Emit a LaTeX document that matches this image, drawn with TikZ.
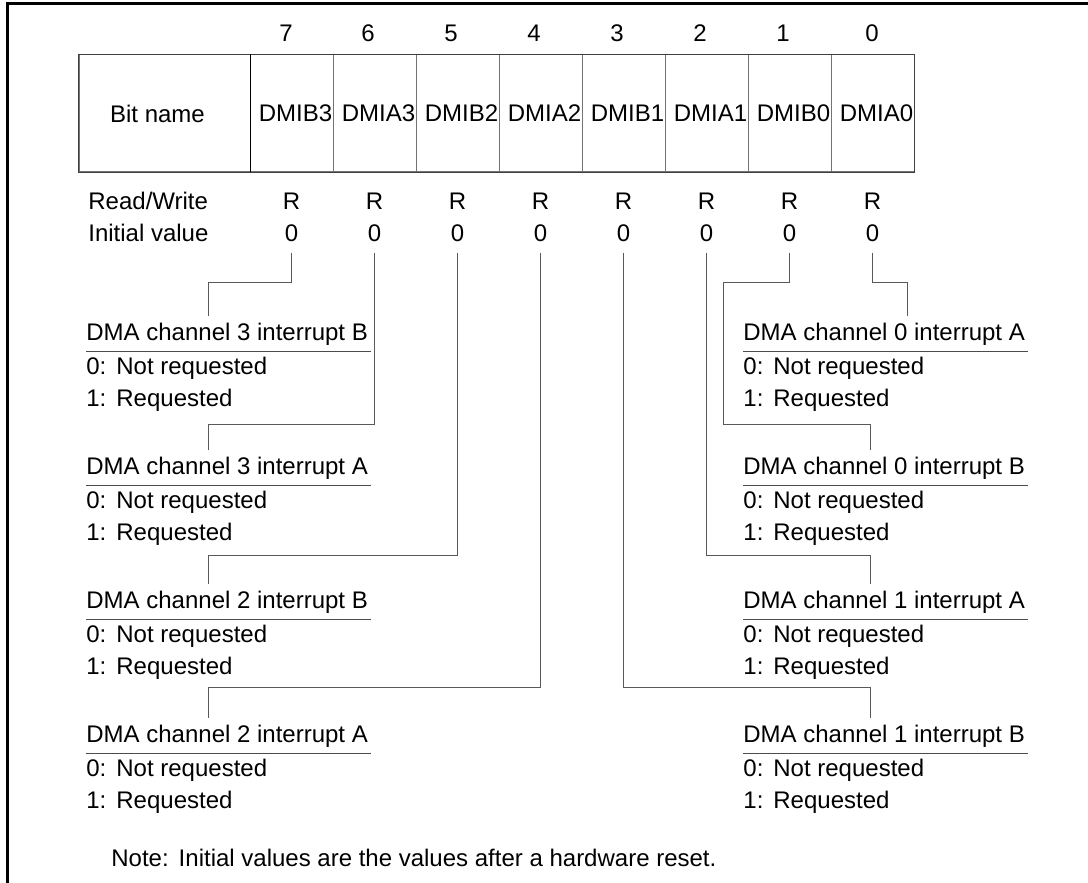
\documentclass[tikz,border=0pt]{standalone}
\usepackage{fontspec}
\setmainfont{Liberation Sans}

\begin{document}
\begin{tikzpicture}[x=0.5pt,y=-0.5pt,font=\fontsize{12pt}{14pt}\selectfont,
 cell/.style={draw=black!55,line width=.5pt,minimum width=41.5pt,minimum height=58.5pt,inner sep=0pt},
 txt/.style={anchor=base,inner sep=0pt},
 val/.style={anchor=base,inner sep=5pt},
 title/.style={anchor=base west,inner xsep=0pt,inner ysep=3pt},
 opt/.style={anchor=base west,inner sep=0pt},
 conn/.style={draw=black!65,line width=.5pt},
 uline/.style={draw=black!70,line width=.5pt}]
\useasboundingbox (0,0) rectangle (1088,883);
\draw[line width=1.5pt] (7.5,883) -- (7.5,3.5) -- (1088,3.5);

\node[cell,minimum width=85.5pt] (bn) at (164.5,113.5) {Bit name\hspace*{7pt}};
\node[cell] (c7) at (291.5,113.5) {\hspace*{4pt}DMIB3};
\node[cell] (c6) at (374.5,113.5) {\hspace*{4pt}DMIA3};
\node[cell] (c5) at (457.5,113.5) {\hspace*{4pt}DMIB2};
\node[cell] (c4) at (540.5,113.5) {\hspace*{4pt}DMIA2};
\node[cell] (c3) at (623.5,113.5) {\hspace*{4pt}DMIB1};
\node[cell] (c2) at (706.5,113.5) {\hspace*{4pt}DMIA1};
\node[cell] (c1) at (789.5,113.5) {\hspace*{4pt}DMIB0};
\node[cell] (c0) at (872.5,113.5) {\hspace*{4pt}DMIA0};
\draw[black!75,line width=.6pt] (bn.north west) rectangle (c0.south east);
\draw[line width=.7pt] (bn.north east) -- (bn.south east);

\node[txt] (n7) at (286,42) {7}; \node[txt] (n6) at (368,42) {6};
\node[txt] (n5) at (451,42) {5}; \node[txt] (n4) at (534,42) {4};
\node[txt] (n3) at (617,42) {3}; \node[txt] (n2) at (700,42) {2};
\node[txt] (n1) at (783,42) {1}; \node[txt] (n0) at (872,42) {0};

\node[opt] (rw) at (88,210) {Read/Write};
\node[opt] (iv) at (88,242) {Initial value};
\node[txt] (r7) at (291.5,210) {R}; \node[val] (v7) at (291.5,242) {0};
\node[txt] (r6) at (374.5,210) {R}; \node[val] (v6) at (374.5,242) {0};
\node[txt] (r5) at (457.5,210) {R}; \node[val] (v5) at (457.5,242) {0};
\node[txt] (r4) at (540.5,210) {R}; \node[val] (v4) at (540.5,242) {0};
\node[txt] (r3) at (623.5,210) {R}; \node[val] (v3) at (623.5,242) {0};
\node[txt] (r2) at (706.5,210) {R}; \node[val] (v2) at (706.5,242) {0};
\node[txt] (r1) at (789.5,210) {R}; \node[val] (v1) at (789.5,242) {0};
\node[txt] (r0) at (872.5,210) {R}; \node[val] (v0) at (872.5,242) {0};

\node[title] (t7) at (86,340) {\makebox[142pt][l]{DMA channel 3 interrupt B}};
\node[opt] (a7) at (86,374) {\makebox[15pt][l]{0:}Not requested};
\node[opt] (b7) at (86,406) {\makebox[15pt][l]{1:}Requested};
\node[title] (t6) at (86,474) {\makebox[142pt][l]{DMA channel 3 interrupt A}};
\node[opt] (a6) at (86,508) {\makebox[15pt][l]{0:}Not requested};
\node[opt] (b6) at (86,540) {\makebox[15pt][l]{1:}Requested};
\node[title] (t5) at (86,608) {\makebox[142pt][l]{DMA channel 2 interrupt B}};
\node[opt] (a5) at (86,642) {\makebox[15pt][l]{0:}Not requested};
\node[opt] (b5) at (86,674) {\makebox[15pt][l]{1:}Requested};
\node[title] (t4) at (86,742) {\makebox[142pt][l]{DMA channel 2 interrupt A}};
\node[opt] (a4) at (86,776) {\makebox[15pt][l]{0:}Not requested};
\node[opt] (b4) at (86,808) {\makebox[15pt][l]{1:}Requested};

\node[title] (t0) at (743,340) {\makebox[142pt][l]{DMA channel 0 interrupt A}};
\node[opt] (a0) at (743,374) {\makebox[15pt][l]{0:}Not requested};
\node[opt] (b0) at (743,406) {\makebox[15pt][l]{1:}Requested};
\node[title] (t1) at (743,474) {\makebox[142pt][l]{DMA channel 0 interrupt B}};
\node[opt] (a1) at (743,508) {\makebox[15pt][l]{0:}Not requested};
\node[opt] (b1) at (743,540) {\makebox[15pt][l]{1:}Requested};
\node[title] (t2) at (743,608) {\makebox[142pt][l]{DMA channel 1 interrupt A}};
\node[opt] (a2) at (743,642) {\makebox[15pt][l]{0:}Not requested};
\node[opt] (b2) at (743,674) {\makebox[15pt][l]{1:}Requested};
\node[title] (t3) at (743,742) {\makebox[142pt][l]{DMA channel 1 interrupt B}};
\node[opt] (a3) at (743,776) {\makebox[15pt][l]{0:}Not requested};
\node[opt] (b3) at (743,808) {\makebox[15pt][l]{1:}Requested};

\draw[uline] (t7.south west) -- (t7.south east); \draw[uline] (t6.south west) -- (t6.south east);
\draw[uline] (t5.south west) -- (t5.south east); \draw[uline] (t4.south west) -- (t4.south east);
\draw[uline] (t0.south west) -- (t0.south east); \draw[uline] (t1.south west) -- (t1.south east);
\draw[uline] (t2.south west) -- (t2.south east); \draw[uline] (t3.south west) -- (t3.south east);

\coordinate (k7) at (208,282); \coordinate (k6) at (208,424);
\coordinate (k5) at (208,555); \coordinate (k4) at (208,687);
\coordinate (k0) at (907,282); \coordinate (k1) at (723,282); \coordinate (m1) at (870,424);
\coordinate (k2) at (870,555); \coordinate (k3) at (870,687);
\draw[conn] (v7.south) |- (k7) -- (k7 |- t7.north);
\draw[conn] (v6.south) |- (k6) -- (k6 |- t6.north);
\draw[conn] (v5.south) |- (k5) -- (k5 |- t5.north);
\draw[conn] (v4.south) |- (k4) -- (k4 |- t4.north);
\draw[conn] (v0.south) |- (k0) -- (k0 |- t0.north);
\draw[conn] (v1.south) |- (k1) |- (m1) -- (m1 |- t1.north);
\draw[conn] (v2.south) |- (k2) -- (k2 |- t2.north);
\draw[conn] (v3.south) |- (k3) -- (k3 |- t3.north);

\node[opt] (note) at (111,866) {Note:\hspace{5pt}Initial values are the values after a hardware reset.};
\end{tikzpicture}
\end{document}
